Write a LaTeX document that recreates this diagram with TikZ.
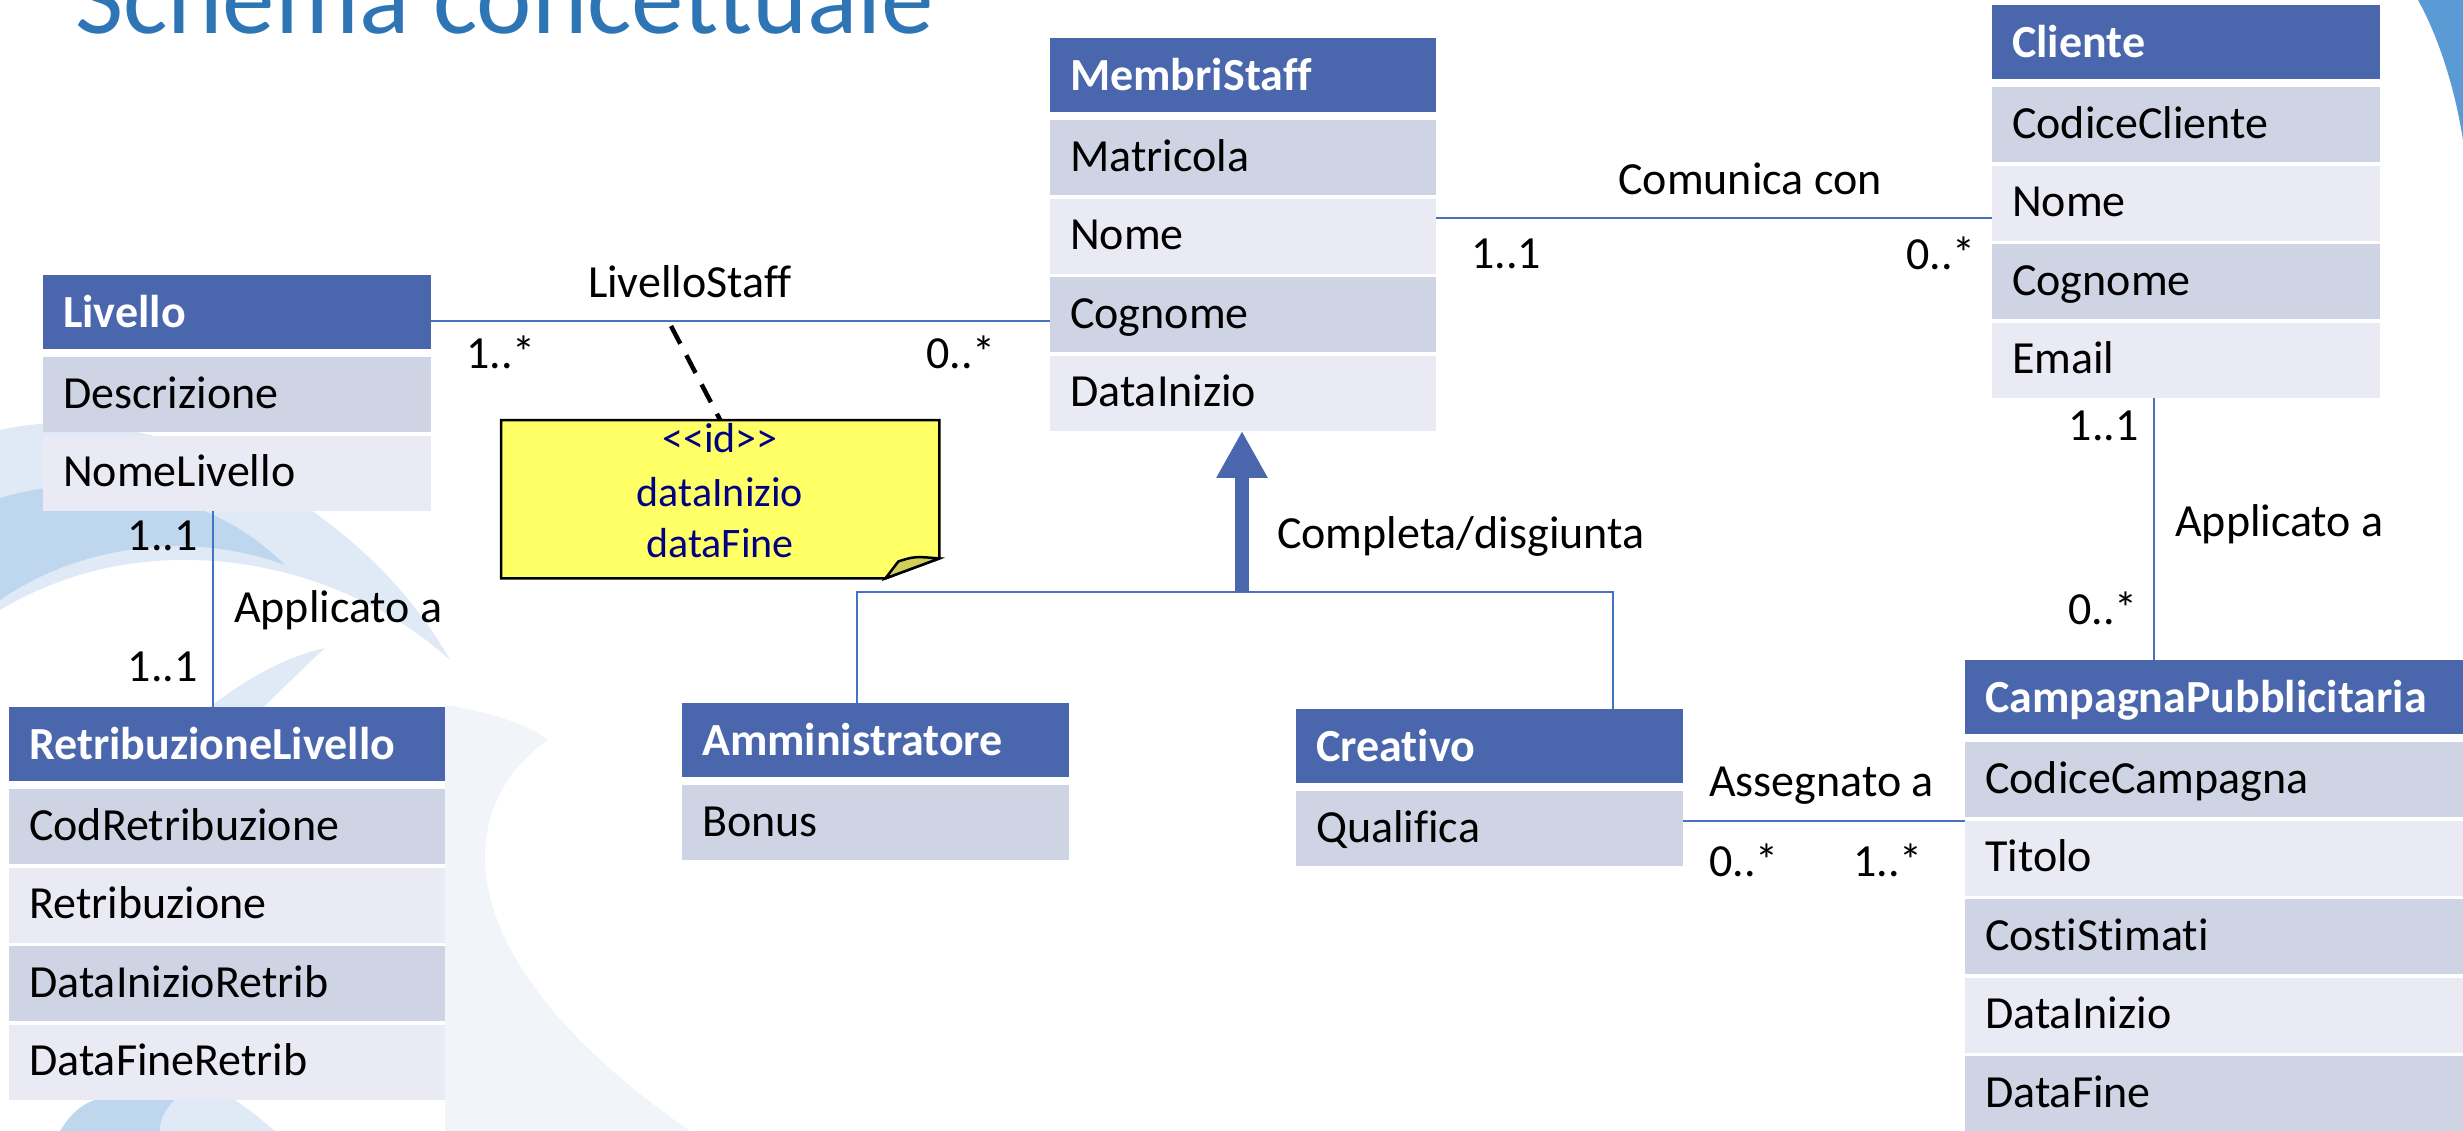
\documentclass[tikz,border=0pt]{standalone}
\usepackage{fontspec}
\setmainfont{Carlito}[Ligatures=CommonOff]
\usetikzlibrary{arrows.meta}
\definecolor{hdr}{HTML}{4A67AD}
\definecolor{rowA}{HTML}{CFD4E5}
\definecolor{rowB}{HTML}{E9EAF3}
\definecolor{lnk}{HTML}{4472C4}
\definecolor{titleblue}{HTML}{2E75B6}
\definecolor{notefill}{HTML}{FFFF66}
\definecolor{notefold}{HTML}{CFCF5A}
\definecolor{notetext}{HTML}{000080}
\definecolor{bgpale}{HTML}{DFEAF6}
\definecolor{bgmid}{HTML}{BED6EE}
\definecolor{bgfaint}{HTML}{F1F4F9}
\definecolor{bgcorner}{HTML}{5B9BD5}
\newcommand\fsz[1]{\fontsize{#1}{#1}\selectfont}
\tikzset{
  hdrbox/.style={rectangle, fill=hdr, anchor=north west, inner xsep=20pt, inner ysep=0pt,
    text width=#1, align=left, text height=52pt, text depth=22pt, text=white, font=\fsz{46}\bfseries},
  rowa/.style={rectangle, fill=rowA, anchor=north west, inner xsep=20pt, inner ysep=0pt,
    text width=#1, align=left, text height=51pt, text depth=24pt, text=black, font=\fsz{46}},
  rowb/.style={rowa=#1, fill=rowB},
  lbl/.style={inner sep=0pt, font=\fsz{46}, text=black},
  assoc/.style={draw=lnk, line width=2.5pt},
  genarrow/.style={draw=hdr, line width=14pt, -{Triangle[width=48pt,length=47pt]}},
  dashlink/.style={draw=black, line width=4.5pt, dash pattern=on 20pt off 13pt},
  noteline/.style={draw=black, line width=2.5pt, line join=miter},
  notetxt/.style={inner sep=0pt, font=\fsz{42}, text=notetext}
}
\begin{document}
\begin{tikzpicture}[x=1pt,y=-1pt]
\useasboundingbox (0,0) rectangle (2463,1131);
% background decoration
\begin{scope}
\clip (0,0) rectangle (2463,1131);
\fill[bgpale] (0,430) .. controls (150,395) and (360,500) .. (450,660) .. controls (340,560) and (150,520) .. (0,610) -- cycle;
\fill[bgmid] (0,498) .. controls (90,470) and (210,490) .. (285,565) .. controls (190,530) and (80,545) .. (0,600) -- cycle;
\fill[bgpale] (150,760) .. controls (210,700) and (270,660) .. (325,648) .. controls (280,690) and (240,730) .. (215,760) -- cycle;
\fill[bgfaint] (445,705) .. controls (490,712) and (530,725) .. (548,740) .. controls (460,800) and (430,950) .. (690,1131) -- (445,1131) -- cycle;
\fill[bgmid] (60,1131) .. controls (70,1115) and (80,1105) .. (95,1100) -- (175,1100) .. controls (165,1110) and (160,1120) .. (160,1131) -- cycle;
\fill[bgpale] (160,1131) .. controls (160,1120) and (165,1110) .. (175,1100) -- (235,1100) .. controls (250,1110) and (262,1120) .. (275,1131) -- cycle;
\fill[bgcorner] (2418,0) .. controls (2440,40) and (2455,90) .. (2463,140) -- (2463,0) -- cycle;
\end{scope}
% title
\node[anchor=base west, inner sep=0pt, text=titleblue, font=\fsz{105}] (title) at (75,34) {Schema concettuale};
% Livello
\node[hdrbox=348pt] (livh) at (43,275) {Livello};
\node[rowa=348pt] (liv1) at (43,357) {Descrizione};
\node[rowb=348pt] (liv2) at (43,435.5) {NomeLivello};
% RetribuzioneLivello
\node[hdrbox=396pt] (reth) at (9,707) {RetribuzioneLivello};
\node[rowa=396pt] (ret1) at (9,789) {CodRetribuzione};
\node[rowb=396pt] (ret2) at (9,867.5) {Retribuzione};
\node[rowa=396pt] (ret3) at (9,946) {DataInizioRetrib};
\node[rowb=396pt] (ret4) at (9,1024.5) {DataFineRetrib};
% MembriStaff
\node[hdrbox=346pt] (msh) at (1050,38) {MembriStaff};
\node[rowa=346pt] (ms1) at (1050,120) {Matricola};
\node[rowb=346pt] (ms2) at (1050,198.5) {Nome};
\node[rowa=346pt] (ms3) at (1050,277) {Cognome};
\node[rowb=346pt] (ms4) at (1050,355.5) {DataInizio};
% Amministratore
\node[hdrbox=347pt] (amh) at (682,703) {Amministratore};
\node[rowa=347pt] (am1) at (682,785) {Bonus};
% Creativo
\node[hdrbox=347pt] (crh) at (1296,709) {Creativo};
\node[rowa=347pt] (cr1) at (1296,791) {Qualifica};
% Cliente
\node[hdrbox=348pt] (clh) at (1992,5) {Cliente};
\node[rowa=348pt] (cl1) at (1992,87) {CodiceCliente};
\node[rowb=348pt] (cl2) at (1992,165.5) {Nome};
\node[rowa=348pt] (cl3) at (1992,244) {Cognome};
\node[rowb=348pt] (cl4) at (1992,322.5) {Email};
% CampagnaPubblicitaria
\node[hdrbox=458pt] (camh) at (1965,660) {CampagnaPubblicitaria};
\node[rowa=458pt] (cam1) at (1965,742) {CodiceCampagna};
\node[rowb=458pt] (cam2) at (1965,820.5) {Titolo};
\node[rowa=458pt] (cam3) at (1965,899) {CostiStimati};
\node[rowb=458pt] (cam4) at (1965,977.5) {DataInizio};
\node[rowa=458pt] (cam5) at (1965,1056) {DataFine};
% note
\node[rectangle, inner sep=0pt, minimum width=438pt, minimum height=158pt, anchor=north west] (note) at (501,420) {};
\draw[noteline, fill=notefill] (note.north west) -- (note.north east) -- ([yshift=20pt]note.south east)
  -- ([xshift=-54pt]note.south east) -- (note.south west) -- cycle;
\draw[noteline, fill=notefold] ([xshift=-54pt]note.south east) -- ([xshift=-41pt,yshift=17pt]note.south east)
  .. controls ([xshift=-25pt,yshift=22pt]note.south east) .. ([yshift=20pt]note.south east) -- cycle;
\node[notetxt, anchor=base] (n1) at (720,452) {{\textless}\kern0pt{\textless}\kern0pt id\kern0pt{\textgreater}\kern0pt{\textgreater}};
\node[notetxt, anchor=base] (n2) at (720,506) {dataInizio};
\node[notetxt, anchor=base] (n3) at (720,557) {dataFine};
% connectors
\draw[assoc] ([yshift=-9pt]livh.east) -- ([yshift=-9pt]livh.east -| ms3.west);
\coordinate (lsx) at (671,326);
\draw[dashlink] (lsx) -- (note.north);
\draw[assoc] ([yshift=18pt]ms2.east) -- ([yshift=18pt]ms2.east -| cl2.west);
\draw[assoc] ([xshift=-24pt]liv2.south) -- ([xshift=-24pt]liv2.south |- reth.north);
\draw[assoc] ([xshift=-32pt]cl4.south) -- ([xshift=-32pt]cl4.south |- camh.north);
\draw[assoc] ([yshift=7.5pt]cr1.east) -- ([yshift=7.5pt]cr1.east -| cam1.west);
\coordinate (gj) at (1242,592);
\coordinate (ga) at (857,592);
\coordinate (gc) at (1613,592);
\draw[assoc] (ga |- amh.north) -- (ga) -- (gc) -- (gc |- crh.north);
\draw[genarrow] (gj) -- (gj |- ms4.south);
% labels
\node[lbl, anchor=base] (l1) at (690,298) {LivelloStaff};
\node[lbl, anchor=base west] (m1) at (466,369) {1..*};
\node[lbl, anchor=base west] (m2) at (926,369) {0..*};
\node[lbl, anchor=base] (l2) at (1750,195) {Comunica con};
\node[lbl, anchor=base west] (m3) at (1471,269) {1..1};
\node[lbl, anchor=base west] (m4) at (1906,270) {0..*};
\node[lbl, anchor=base east] (m5) at (198,550) {1..1};
\node[lbl, anchor=base west] (l3) at (234,622) {Applicato a};
\node[lbl, anchor=base east] (m6) at (198,681) {1..1};
\node[lbl, anchor=base east] (m7) at (2139,440) {1..1};
\node[lbl, anchor=base west] (l4) at (2175,536) {Applicato a};
\node[lbl, anchor=base east] (m8) at (2138,624) {0..*};
\node[lbl, anchor=base west] (l5) at (1709,796) {Assegnato a};
\node[lbl, anchor=base west] (m9) at (1709,876) {0..*};
\node[lbl, anchor=base west] (m10) at (1853,876) {1..*};
\node[lbl, anchor=base west] (l6) at (1277,548) {Completa/disgiunta};
\end{tikzpicture}
\end{document}
